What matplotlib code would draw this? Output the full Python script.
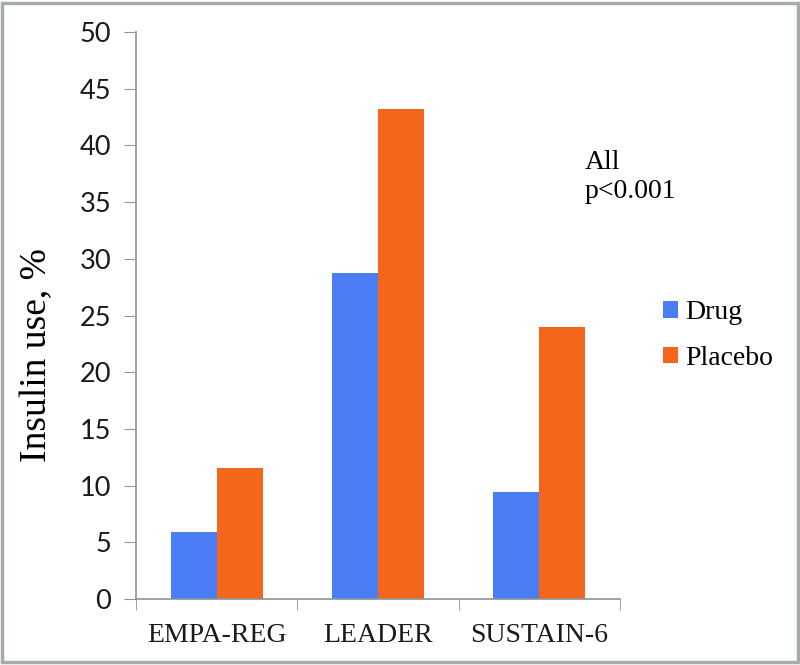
import matplotlib.pyplot as plt
from matplotlib.patches import Rectangle
import numpy as np

trials = ["EMPA-REG", "LEADER", "SUSTAIN-6"]
drug = [5.9, 28.75, 9.45]
placebo = [11.55, 43.2, 24.0]
yticks = [0, 5, 10, 15, 20, 25, 30, 35, 40, 45, 50]

serif = "Liberation Serif"
sans = "Lato"
axis_grey = "#8c9494"

fig = plt.figure(figsize=(8, 6.65), dpi=100)
ax = fig.add_axes([0.17, 0.0992, 0.605, 0.8526])

x = np.arange(len(trials))
w = 0.285
ax.bar(x - w / 2, drug, w, color="#4A7DF6", label="Drug")
ax.bar(x + w / 2, placebo, w, color="#F4661B", label="Placebo")

ax.set_xlim(-0.5, 2.5)
ax.set_ylim(0, 50)
ax.set_yticks(yticks)
ax.set_yticklabels([str(t) for t in yticks], fontfamily=sans, fontsize=19.5)
ax.set_xticks(x)
ax.set_xticklabels(trials, fontfamily=serif, fontsize=20)
ax.set_xticks([-0.5, 0.5, 1.5, 2.5], minor=True)
ax.tick_params(axis="x", which="major", length=0, pad=17, colors="#1a1a1a")
ax.tick_params(axis="x", which="minor", length=8, color=axis_grey)
ax.tick_params(axis="y", length=9, color=axis_grey, pad=9, colors="#1a1a1a")
ax.tick_params(axis="y", color=axis_grey)

for side in ["top", "right"]:
    ax.spines[side].set_visible(False)
for side in ["left", "bottom"]:
    ax.spines[side].set_color(axis_grey)
    ax.spines[side].set_linewidth(1.2)

ax.set_ylabel("Insulin use, %", fontfamily=serif, fontsize=27)
ax.yaxis.set_label_coords(-0.17, 0.43)

ax.text(2.28, 39.6, "All\np<0.001", fontfamily=serif, fontsize=20,
        va="top", ha="left", linespacing=1.2)

leg = ax.legend(loc="center left", bbox_to_anchor=(1.037, 0.465), frameon=False,
                prop={"family": serif, "size": 20}, handlelength=0.55,
                handleheight=0.55, handletextpad=0.25, labelspacing=0.75)

fig.add_artist(Rectangle((0.003, 0.004), 0.994, 0.992, transform=fig.transFigure,
                         fill=False, edgecolor="#a3abab", linewidth=2.5))

fig.savefig("out.png", dpi=100)
